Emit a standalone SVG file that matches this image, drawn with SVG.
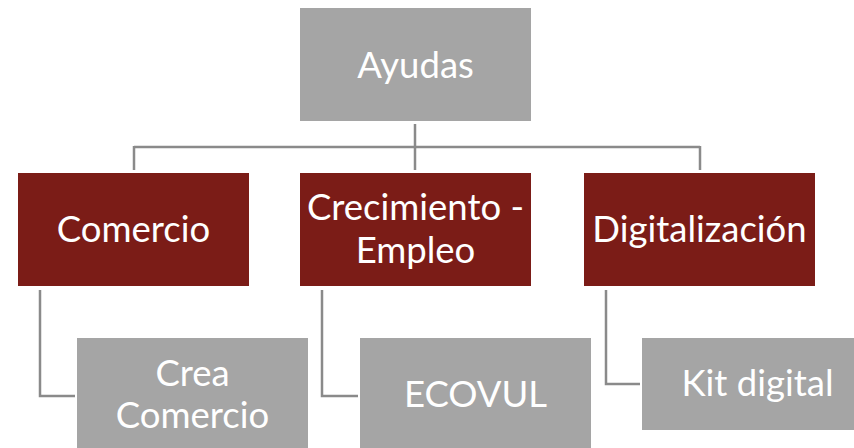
<svg xmlns="http://www.w3.org/2000/svg" width="854" height="448" viewBox="0 0 854 448">
<style>
.g{fill:#A5A5A5}
.r{fill:#7B1C17}
.t{fill:#fff;font-family:Lato,"Liberation Sans",sans-serif;font-size:36.5px;text-anchor:middle}
.c{fill:none;stroke:#8A8A8A;stroke-width:2.5}
</style>
<rect width="854" height="448" fill="#fff"/>
<g id="connectors">
<path class="c" d="M415 124V147M134 147H700M134 146V170M415 146V170M700 146V170"/>
<path class="c" d="M40 290V396H75"/>
<path class="c" d="M322 290V396H358"/>
<path class="c" d="M606 290V384H640"/>
</g>
<g id="ayudas"><rect class="g" x="300" y="8" width="231" height="113"/><text class="t" x="415.5" y="78">Ayudas</text></g>
<g id="comercio"><rect class="r" x="18" y="173" width="231" height="113"/><text class="t" x="133.5" y="242">Comercio</text></g>
<g id="crecimiento"><rect class="r" x="300" y="173" width="231" height="113"/><text class="t" x="415.5" y="220">Crecimiento -</text><text class="t" x="415.5" y="263">Empleo</text></g>
<g id="digitalizacion"><rect class="r" x="584" y="173" width="231" height="113"/><text class="t" x="699.5" y="242">Digitalización</text></g>
<g id="crea"><rect class="g" x="77" y="338" width="231" height="113"/><text class="t" x="192.5" y="386">Crea</text><text class="t" x="192.5" y="428">Comercio</text></g>
<g id="ecovul"><rect class="g" x="360" y="338" width="231" height="113"/><text class="t" x="475.5" y="407">ECOVUL</text></g>
<g id="kit"><rect class="g" x="642" y="338" width="231" height="92"/><text class="t" x="757.5" y="396">Kit digital</text></g>
</svg>
